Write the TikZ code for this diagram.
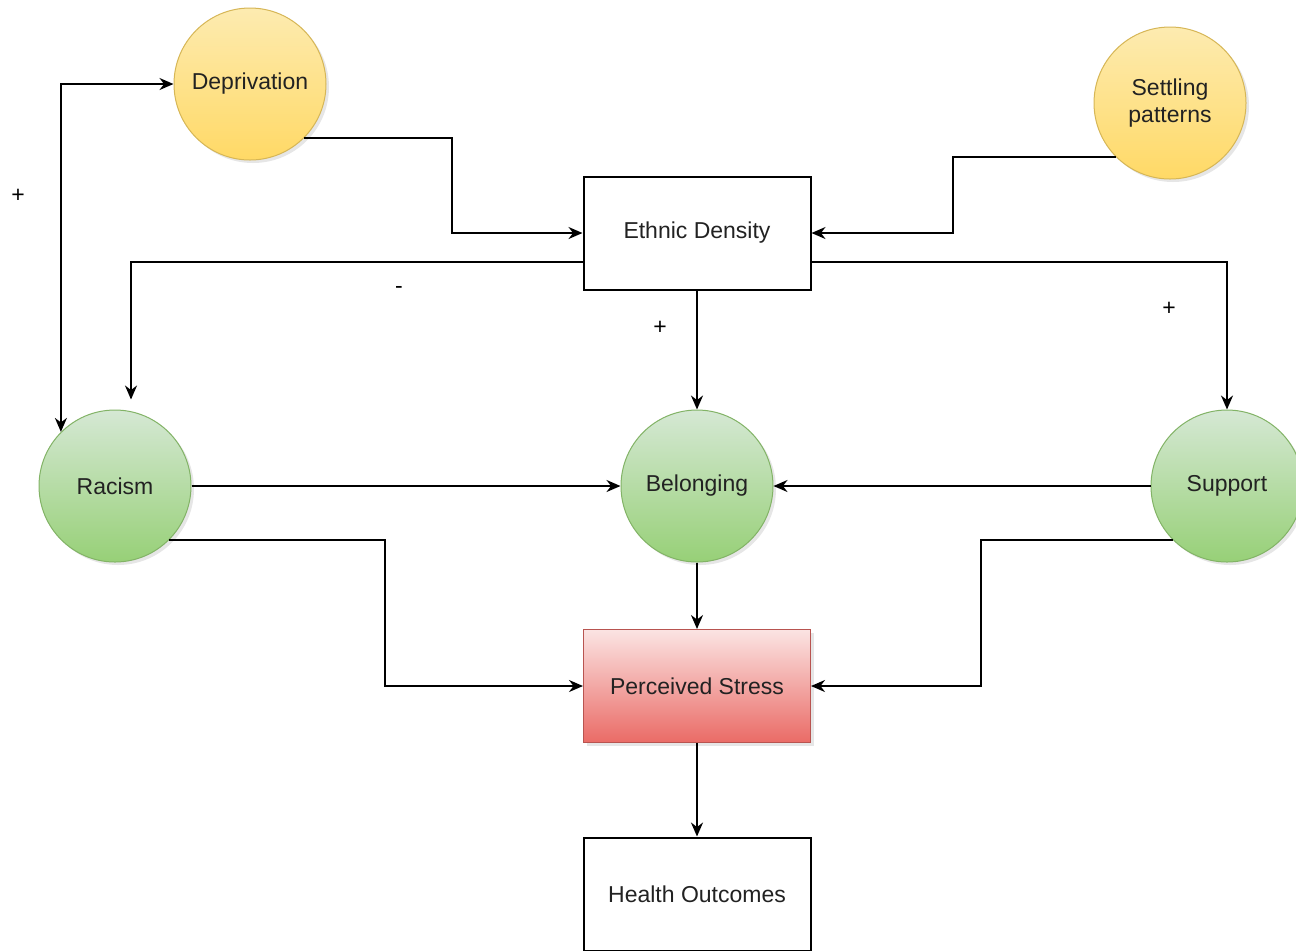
\documentclass[tikz,border=0pt]{standalone}
\usepackage{fontspec}
\setmainfont{Liberation Sans}
\usepackage{xcolor}
\usetikzlibrary{arrows.meta,positioning,calc,shadows}

\definecolor{ydraw}{HTML}{D6B656}
\definecolor{ytop}{HTML}{FDEBB0}
\definecolor{ybot}{HTML}{FFD966}
\definecolor{gdraw}{HTML}{82B366}
\definecolor{gtop}{HTML}{D5E8D4}
\definecolor{gbot}{HTML}{97D077}
\definecolor{rdraw}{HTML}{B85450}
\definecolor{rtop}{HTML}{FBE4E3}
\definecolor{rbot}{HTML}{EA6B66}
\definecolor{inkc}{HTML}{222222}

\begin{document}
\begin{tikzpicture}[x=0.5pt,y=0.5pt,>={Stealth[length=7pt,width=6pt]},line width=1pt,
  font=\fontsize{11.5}{13.5}\selectfont,
  softshadow/.style={drop shadow={shadow xshift=1.5pt,shadow yshift=-1.5pt,opacity=0.2}},
  yellowc/.style={circle,minimum size=76pt,inner sep=0pt,line width=0.5pt,draw=ydraw,
    top color=ytop,bottom color=ybot,softshadow,align=center,text=inkc},
  greenc/.style={circle,minimum size=76pt,inner sep=0pt,line width=0.5pt,draw=gdraw,
    top color=gtop,bottom color=gbot,softshadow,text=inkc},
  boxn/.style={draw,fill=white,minimum width=113.5pt,minimum height=56.5pt,inner sep=0pt,text=inkc},
  redbox/.style={boxn,draw=rdraw,line width=0.5pt,top color=rtop,bottom color=rbot,softshadow},
  sign/.style={inner sep=1pt}]
\clip (0,0) rectangle (1296,-950);

% factors
\node[yellowc] (dep) at (250,-84) {Deprivation};
\node[yellowc] (settle) at (1170,-103) {Settling\\patterns};
\node[boxn] (eth) at (697,-233) {Ethnic Density};
\node[greenc] (rac) at (115,-486) {Racism};
\node[greenc] (bel) at (697,-486) {Belonging};
\node[greenc] (sup) at (1227,-486) {Support};
\node[redbox] (stress) at (697,-686) {Perceived Stress};
\node[boxn] (health) at (697,-894) {Health Outcomes};

% links
\draw[<->] (rac.135) |- (dep.west);
\draw[->] (dep.-45) -| ($(eth.west)+(-131,0)$) -- (eth.west);
\draw[->] (settle.225) -| ($(eth.east)+(141,0)$) -- (eth.east);
\draw[->] ($(eth.west)+(0,-29)$) -| ($(rac.north)+(16,10)$);
\draw[->] ($(eth.east)+(0,-29)$) -| (sup.north);
\draw[->] (eth.south) -- (bel.north);
\draw[->] (rac.east) -- (bel.west);
\draw[->] (sup.west) -- (bel.east);
\draw[->] (rac.-45) -| ($(stress.west)+(-198,0)$) -- (stress.west);
\draw[->] (sup.225) -| ($(stress.east)+(170,0)$) -- (stress.east);
\draw[->] (bel.south) -- (stress.north);
\draw[->] (stress.south) -- (health.north);

% signs
\node[sign] (pdep) at (18,-196) {+};
\node[sign] (mrac) at (399,-290) {-};
\node[sign] (pbel) at (660,-328) {+};
\node[sign] (psup) at (1169,-309) {+};
\end{tikzpicture}
\end{document}
